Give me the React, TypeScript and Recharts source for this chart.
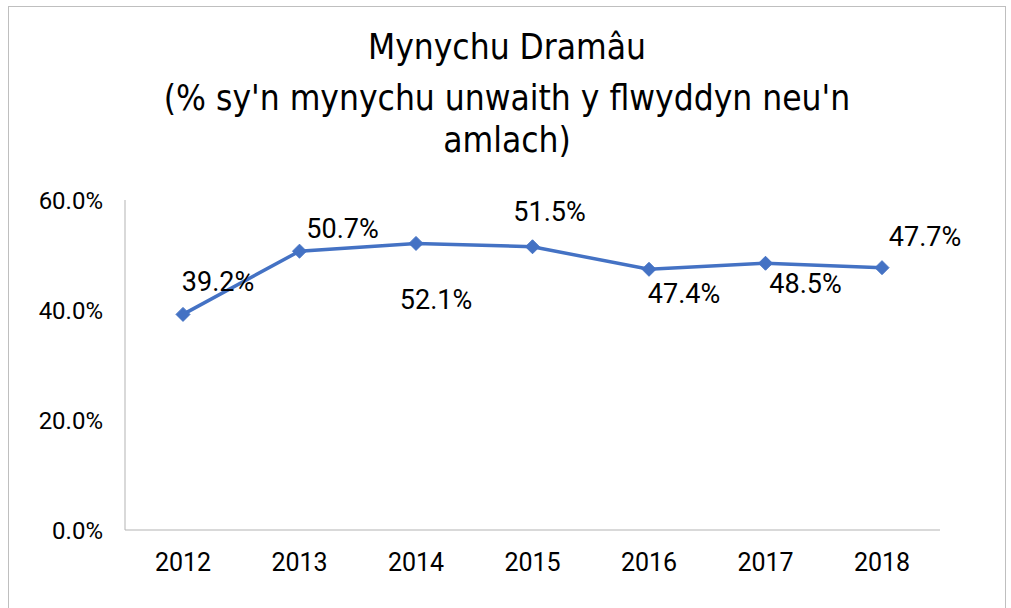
import React from "react";
import { LineChart, Line, XAxis, YAxis, LabelList } from "recharts";

const years = ["2012", "2013", "2014", "2015", "2016", "2017", "2018"];
const values = [39.2, 50.7, 52.1, 51.5, 47.4, 48.5, 47.7];
const yTicks = [0, 20, 40, 60];
const title = "Mynychu Dramâu";
const subtitleLine1 = "(% sy'n mynychu unwaith y flwyddyn neu'n";
const subtitleLine2 = "amlach)";

const data = years.map((y, i) => ({ year: y, value: values[i] }));

// label offsets (style) relative to each point
const labelOffsets = [
  { dx: 35, dy: -32 },
  { dx: 43, dy: -22 },
  { dx: 20, dy: 57 },
  { dx: 17, dy: -35 },
  { dx: 35, dy: 25 },
  { dx: 40, dy: 21 },
  { dx: 43, dy: -31 },
];

const BLUE = "#4472C4";
const FONT = "Roboto, 'Noto Sans', sans-serif";
const TITLE_FONT = "'DejaVu Sans Condensed', 'Liberation Sans Narrow', sans-serif";

const Diamond = (props: any) => {
  const { cx, cy, index } = props;
  if (cx == null || cy == null) return null;
  const r = 7;
  return (
    <polygon
      key={`d-${index}`}
      points={`${cx},${cy - r} ${cx + r},${cy} ${cx},${cy + r} ${cx - r},${cy}`}
      fill={BLUE}
      stroke={BLUE}
    />
  );
};

const renderLabel = (props: any) => {
  const { x, y, value, index } = props;
  const off = labelOffsets[index] || { dx: 0, dy: -20 };
  return (
    <text
      key={`l-${index}`}
      x={x + off.dx}
      y={y + off.dy}
      textAnchor="middle"
      dominantBaseline="central"
      fontFamily={FONT}
      fontSize={27}
      fill="#000"
    >
      {Number(value).toFixed(1)}%
    </text>
  );
};

export default function App() {
  return (
    <div
      style={{
        position: "absolute",
        left: 8,
        top: 6,
        width: 996,
        height: 620,
        border: "1px solid #bfbfbf",
        background: "#fff",
        overflow: "hidden",
      }}
    >
      <div
        style={{
          position: "absolute",
          left: 0,
          top: 18,
          width: 996,
          textAlign: "center",
          fontFamily: TITLE_FONT,
          color: "#000",
        }}
      >
        <div style={{ fontSize: 35, lineHeight: "44px" }}>{title}</div>
        <div style={{ fontSize: 35, lineHeight: "42px", marginTop: 8 }}>{subtitleLine1}</div>
        <div style={{ fontSize: 35, lineHeight: "42px" }}>{subtitleLine2}</div>
      </div>
      <div style={{ position: "absolute", left: 0, top: 0 }}>
        <LineChart
          width={996}
          height={600}
          data={data}
          margin={{ top: 193, right: 65, bottom: 37, left: 0 }}
        >
          <XAxis
            dataKey="year"
            height={40}
            stroke="#b3b3b3"
            tickLine={false}
            tickSize={0}
            tickMargin={23}
            padding={{ left: 58, right: 58 }}
            tick={{ fill: "#000", fontFamily: FONT, fontSize: 25 }}
          />
          <YAxis
            width={116}
            domain={[0, 60]}
            ticks={yTicks}
            tickFormatter={(v: number) => v.toFixed(1) + "%"}
            stroke="#b3b3b3"
            tickLine={false}
            tickSize={0}
            tickMargin={22}
            tick={{ fill: "#000", fontFamily: FONT, fontSize: 24 }}
          />
          <Line
            type="linear"
            dataKey="value"
            stroke={BLUE}
            strokeWidth={3.5}
            dot={Diamond}
            activeDot={false}
            isAnimationActive={false}
          >
            <LabelList dataKey="value" content={renderLabel} />
          </Line>
        </LineChart>
      </div>
    </div>
  );
}
